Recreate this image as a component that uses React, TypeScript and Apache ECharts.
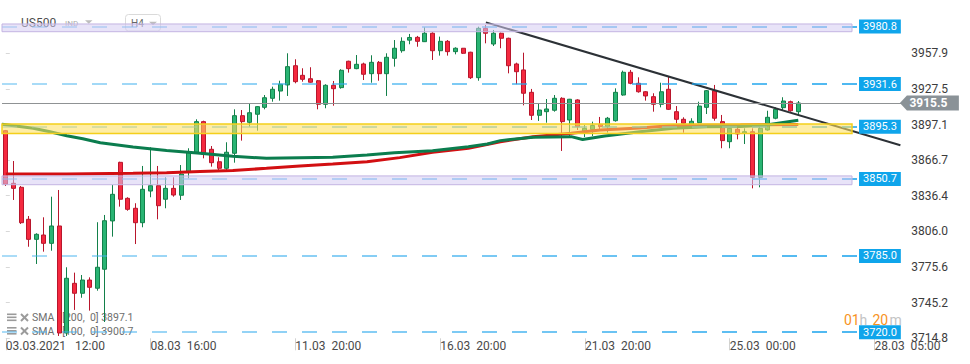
import React, { useEffect, useRef } from "react";
import * as echarts from "echarts";

// [open, close, low, high] per H4 candle
const candleOHLC: [number, number, number, number][] = [
  [3891.9, 3846.2, 3844.7, 3892.5],
  [3847.0, 3842.7, 3832.8, 3866.0],
  [3843.6, 3813.4, 3812.3, 3844.7],
  [3816.3, 3799.2, 3792.9, 3819.1],
  [3799.2, 3803.5, 3778.2, 3804.4],
  [3802.9, 3795.8, 3788.7, 3818.0],
  [3795.8, 3810.6, 3789.5, 3835.6],
  [3810.6, 3719.3, 3716.8, 3841.3],
  [3719.3, 3766.0, 3716.8, 3775.4],
  [3761.7, 3753.2, 3739.0, 3770.8],
  [3753.2, 3764.5, 3749.4, 3768.8],
  [3764.5, 3758.3, 3738.4, 3766.8],
  [3757.5, 3775.4, 3755.4, 3813.8],
  [3773.7, 3815.1, 3728.7, 3820.0],
  [3814.9, 3837.6, 3801.5, 3845.6],
  [3864.9, 3833.4, 3827.1, 3865.4],
  [3834.2, 3824.8, 3823.6, 3835.1],
  [3825.7, 3813.4, 3795.2, 3830.0],
  [3813.4, 3841.9, 3809.5, 3861.8],
  [3840.4, 3845.0, 3835.1, 3877.7],
  [3845.0, 3827.9, 3816.3, 3861.8],
  [3833.4, 3842.7, 3825.7, 3852.1],
  [3842.7, 3837.0, 3835.6, 3852.1],
  [3836.8, 3854.9, 3832.8, 3862.6],
  [3856.9, 3874.0, 3851.3, 3876.9],
  [3873.5, 3899.6, 3872.6, 3901.6],
  [3899.6, 3871.8, 3868.3, 3900.4],
  [3876.0, 3864.6, 3861.2, 3878.8],
  [3865.4, 3859.8, 3856.9, 3869.2],
  [3859.8, 3873.5, 3858.4, 3882.0],
  [3872.6, 3904.7, 3864.6, 3910.1],
  [3904.7, 3899.6, 3883.4, 3909.5],
  [3899.0, 3907.2, 3895.3, 3914.7],
  [3905.9, 3912.4, 3891.9, 3912.9],
  [3911.8, 3920.0, 3910.1, 3922.3],
  [3919.5, 3927.2, 3916.6, 3929.4],
  [3925.7, 3931.5, 3917.5, 3934.5],
  [3930.9, 3946.5, 3921.5, 3957.9],
  [3947.3, 3933.7, 3932.3, 3952.8],
  [3939.1, 3935.7, 3933.7, 3945.1],
  [3936.2, 3933.2, 3932.8, 3946.0],
  [3934.5, 3914.4, 3910.1, 3935.1],
  [3914.4, 3930.6, 3911.0, 3931.5],
  [3930.6, 3927.7, 3913.2, 3934.3],
  [3928.6, 3943.4, 3927.7, 3944.3],
  [3951.1, 3944.8, 3941.4, 3951.6],
  [3944.8, 3948.5, 3944.3, 3956.4],
  [3948.8, 3940.0, 3935.1, 3949.9],
  [3940.5, 3950.2, 3932.8, 3956.2],
  [3950.2, 3940.5, 3934.5, 3951.3],
  [3940.5, 3954.5, 3921.5, 3957.9],
  [3953.6, 3962.2, 3946.5, 3969.2],
  [3960.1, 3968.1, 3958.4, 3971.5],
  [3969.1, 3971.4, 3965.6, 3974.4],
  [3971.5, 3968.1, 3963.5, 3972.7],
  [3967.8, 3975.0, 3967.5, 3980.1],
  [3975.0, 3960.1, 3952.2, 3975.8],
  [3960.1, 3968.1, 3955.9, 3972.1],
  [3968.1, 3959.3, 3955.9, 3969.2],
  [3959.3, 3962.2, 3957.0, 3963.0],
  [3962.2, 3957.9, 3957.3, 3962.4],
  [3958.8, 3937.1, 3936.0, 3959.2],
  [3937.1, 3979.2, 3934.5, 3980.6],
  [3979.2, 3975.0, 3966.4, 3982.0],
  [3965.8, 3975.0, 3964.1, 3977.8],
  [3975.0, 3970.7, 3962.2, 3975.5],
  [3970.7, 3947.3, 3940.8, 3971.2],
  [3948.8, 3942.2, 3931.5, 3949.9],
  [3943.7, 3923.8, 3913.5, 3958.4],
  [3924.6, 3905.0, 3901.0, 3927.5],
  [3905.0, 3909.5, 3900.2, 3915.5],
  [3908.1, 3910.4, 3898.7, 3918.9],
  [3909.3, 3919.5, 3908.1, 3922.3],
  [3919.5, 3899.6, 3874.6, 3920.4],
  [3901.0, 3918.7, 3886.5, 3919.0],
  [3918.1, 3895.3, 3892.5, 3918.7],
  [3891.4, 3893.9, 3886.5, 3896.7],
  [3892.9, 3896.3, 3887.4, 3899.6],
  [3897.2, 3895.3, 3892.5, 3903.6],
  [3895.3, 3902.5, 3890.3, 3903.6],
  [3900.4, 3924.6, 3899.6, 3928.0],
  [3922.3, 3941.7, 3921.7, 3943.1],
  [3941.7, 3932.3, 3931.5, 3943.7],
  [3932.3, 3925.1, 3924.3, 3937.4],
  [3925.1, 3921.5, 3917.5, 3925.7],
  [3920.9, 3914.4, 3908.1, 3923.8],
  [3914.4, 3925.1, 3911.8, 3932.8],
  [3927.2, 3910.1, 3909.5, 3937.9],
  [3908.1, 3901.6, 3898.2, 3912.9],
  [3901.6, 3898.2, 3890.2, 3903.3],
  [3896.7, 3899.9, 3893.9, 3902.5],
  [3898.7, 3912.9, 3898.2, 3916.6],
  [3911.8, 3926.0, 3906.1, 3926.6],
  [3926.0, 3902.5, 3900.4, 3930.9],
  [3899.6, 3883.4, 3876.9, 3905.3],
  [3882.5, 3893.9, 3876.9, 3895.3],
  [3893.1, 3889.1, 3884.5, 3896.7],
  [3889.7, 3891.0, 3880.5, 3893.9],
  [3891.0, 3852.1, 3842.7, 3893.9],
  [3852.1, 3893.9, 3843.6, 3895.3],
  [3892.5, 3903.3, 3891.9, 3908.9],
  [3902.5, 3910.1, 3901.6, 3911.8],
  [3911.5, 3917.2, 3909.5, 3920.4],
  [3916.6, 3908.9, 3908.1, 3917.5],
  [3908.1, 3915.5, 3904.4, 3917.2],
];

// [candle position, value]
const sma100: [number, number][] = [
  [-0.5, 3897.4], [3.6, 3893.9], [5.8, 3891.0], [8, 3887.5], [10.1, 3885.0],
  [12.4, 3881.6], [16.7, 3878.0], [21.1, 3875.0], [25.5, 3872.6], [29.8, 3870.0],
  [34.2, 3868.3], [38.6, 3868.8], [42.9, 3869.2], [47.4, 3871.2], [51, 3873.1],
  [56, 3874.8], [60.7, 3878.2], [63.2, 3880.5], [64.9, 3883.4], [69.2, 3886.3],
  [74.2, 3886.8], [75.7, 3884.4], [78.6, 3887.4], [83.2, 3891.0], [87.6, 3893.9],
  [92, 3895.3], [96.4, 3895.5], [99.8, 3896.7], [104, 3900.7],
];
const sma200: [number, number][] = [
  [0, 3854.9], [8, 3854.9], [16.7, 3855.5], [21.1, 3856.0], [25.5, 3857.1],
  [29.8, 3857.9], [34.2, 3859.8], [38.6, 3861.8], [42.9, 3863.5], [47.4, 3865.4],
  [51.7, 3868.9], [56, 3873.5], [60.7, 3876.9], [64.9, 3882.5], [69.2, 3886.8],
  [74.2, 3889.7], [78, 3892.5], [83.2, 3894.2], [87.6, 3896.3], [96.4, 3896.7],
  [104, 3897.1],
];

const trendPoints: [number, number][] = [[63, 3984.3], [117.4, 3879.4]];

const levelLines = [3980.8, 3931.6, 3895.3, 3850.7, 3785.0, 3720.0];
const currentPrice = 3915.5;
const purpleBands: [number, number][] = [[3976.3, 3982.9], [3845.8, 3853.3]];
const yellowBands: [number, number][] = [[3889.5, 3897.6]];

const xTickIndex = [0, 19, 38, 57, 76, 95, 114];
const xTickLabels = [
  "03.03.2021   12:00",
  "08.03  16:00",
  "11.03  20:00",
  "16.03  20:00",
  "21.03  20:00",
  "25.03  00:00",
  "28.03  05:00",
];
const yTicks = [3714.8, 3745.2, 3775.6, 3806.0, 3836.4, 3866.7, 3897.1, 3927.5, 3957.9];
const smaLegend = ["SMA   [200,  0] 3897.1", "SMA   [100,  0] 3900.7"];
const timerParts: [string, boolean][] = [["01", true], ["h", false], ["20", true], ["m", false]];

const X_MIN = -0.5;
const X_MAX = 117.5;
const LINE_END = 111.84;
const BAND_END = 111.05;

export default function App() {
  const ref = useRef<HTMLDivElement>(null);

  useEffect(() => {
    document.body.style.margin = "0";
    const el = ref.current;
    if (!el) return;
    const chart = echarts.init(el, null, { renderer: "svg" });
    const FONT = "Roboto, 'Noto Sans', sans-serif";

    const candleData = candleOHLC.map((c, i) => [i, c[0], c[1], c[2], c[3]]);

    const dashGradient = new echarts.graphic.LinearGradient(
      0, 0, 860, 0,
      [
        { offset: 0, color: "rgba(70,178,238,0.6)" },
        { offset: 1, color: "rgba(18,160,236,1)" },
      ],
      true
    );

    const levelLineData: any[] = levelLines.map((v) => [
      { coord: [X_MIN, v], value: v },
      { coord: [LINE_END, v], value: v },
    ]);
    levelLineData.push({
      yAxis: currentPrice,
      lineStyle: { type: "solid", color: "#8f9294", width: 1 },
      label: { show: false },
    });

    const bandData: any[] = [
      ...purpleBands.map(([lo, hi]) => [
        {
          coord: [X_MIN, hi],
          itemStyle: { color: "rgba(214,204,243,0.55)", borderColor: "#c3b4e2", borderWidth: 1 },
        },
        { coord: [BAND_END, lo] },
      ]),
      ...yellowBands.map(([lo, hi]) => [
        {
          coord: [X_MIN, hi],
          itemStyle: { color: "rgba(253,224,100,0.58)", borderColor: "#f4cf1b", borderWidth: 1.5 },
        },
        { coord: [BAND_END, lo] },
      ]),
    ];

    const legendGraphics: any[] = [];
    smaLegend.forEach((txt, k) => {
      const cy = 317.5 + k * 13.5;
      [-4, -1, 2].forEach((dy) =>
        legendGraphics.push({
          type: "rect",
          shape: { x: 7, y: cy + dy, width: 9.5, height: 1.6 },
          style: { fill: "#9b9b9b" },
        })
      );
      legendGraphics.push({
        type: "line",
        shape: { x1: 21, y1: cy - 3.5, x2: 28, y2: cy + 3.5 },
        style: { stroke: "#9b9b9b", lineWidth: 2 },
      });
      legendGraphics.push({
        type: "line",
        shape: { x1: 28, y1: cy - 3.5, x2: 21, y2: cy + 3.5 },
        style: { stroke: "#9b9b9b", lineWidth: 2 },
      });
      legendGraphics.push({
        type: "text",
        x: 32,
        y: cy,
        style: { text: txt, fill: "#6e6e6e", fontSize: 10.5, fontFamily: FONT, verticalAlign: "middle" },
      });
    });

    // countdown "01h 20m"
    const timerX = [844, 859.5, 872.5, 889.5];
    const timerGraphics = timerParts.map(([t, orange], k) => ({
      type: "text",
      x: timerX[k],
      y: 319.5,
      z: 10,
      style: {
        text: t,
        fill: orange ? "#f7931e" : "#c4c4c4",
        fontSize: 14,
        fontFamily: FONT,
        verticalAlign: "middle",
      },
    }));

    const option: any = {
      animation: false,
      backgroundColor: "#ffffff",
      textStyle: { fontFamily: FONT },
      grid: { left: 2, right: 68.84, top: 0, bottom: 25.7, containLabel: false, outerBoundsMode: "none" },
      xAxis: {
        type: "value",
        min: X_MIN,
        max: X_MAX,
        axisLine: { show: false },
        splitLine: { show: false },
        axisTick: { show: true, customValues: xTickIndex, length: 12, lineStyle: { color: "#d2d2d2" } },
        axisLabel: {
          customValues: xTickIndex,
          align: "left",
          margin: 2,
          color: "#4a4a4a",
          fontSize: 12,
          fontFamily: FONT,
          formatter: (v: number) => {
            const k = xTickIndex.indexOf(Math.round(v));
            return k >= 0 ? xTickLabels[k] : "";
          },
        },
      },
      yAxis: {
        type: "value",
        position: "right",
        min: 3714.8,
        max: 4003.35,
        axisLine: { show: false },
        splitLine: { show: false },
        axisTick: { show: true, customValues: yTicks, length: 4, lineStyle: { color: "#d8d8d8" } },
        axisLabel: {
          customValues: yTicks,
          margin: 10,
          color: "#3c3c3c",
          fontSize: 12,
          fontFamily: FONT,
          formatter: (v: number) => v.toFixed(1),
        },
      },
      series: [
        {
          type: "candlestick",
          data: candleData,
          encode: { x: 0, y: [1, 2, 3, 4] },
          barWidth: 4.5,
          z: 2,
          silent: true,
          itemStyle: {
            color: "#29b473",
            color0: "#f5293f",
            borderColor: "#13804a",
            borderColor0: "#b8162c",
            borderWidth: 1,
          },
        },
        {
          type: "line",
          data: sma200,
          symbol: "none",
          z: 3,
          silent: true,
          lineStyle: { color: "#d20f12", width: 3 },
        },
        {
          type: "line",
          data: sma100,
          symbol: "none",
          z: 3,
          silent: true,
          lineStyle: { color: "#0b7d4e", width: 3 },
        },
        {
          type: "line",
          data: trendPoints,
          symbol: "none",
          z: 4,
          silent: true,
          lineStyle: { color: "#2c3136", width: 2 },
          markLine: {
            z: 5,
            silent: true,
            symbol: ["none", "none"],
            lineStyle: { type: [15, 15], color: dashGradient, width: 1.6 },
            label: {
              show: true,
              position: "end",
              distance: 1,
              formatter: (p: any) => Number(p.value).toFixed(1),
              backgroundColor: "#0fa5eb",
              color: "#ffffff",
              fontSize: 11,
              fontFamily: FONT,
              padding: [2, 4, 1, 4],
            },
            data: levelLineData,
          },
          markArea: {
            z: 6,
            silent: true,
            label: { show: false },
            data: bandData,
          },
          markPoint: {
            z: 7,
            silent: true,
            symbol: "path://M0,7.5L7,0L59,0L59,15L7,15Z",
            symbolSize: [59, 15],
            symbolOffset: [29, 0],
            itemStyle: { color: "#8a9297" },
            label: {
              show: true,
              position: "inside",
              formatter: currentPrice.toFixed(1),
              color: "#ffffff",
              fontSize: 12,
              fontWeight: "bold",
              fontFamily: FONT,
              offset: [-1, 0],
            },
            data: [{ coord: [117.4, currentPrice], value: currentPrice }],
          },
        },
      ],
      graphic: [
        {
          type: "text",
          x: 21,
          y: 22.8,
          style: { text: "US500", fill: "#4d4d4d", fontSize: 12, fontFamily: FONT, verticalAlign: "middle" },
        },
        {
          type: "text",
          x: 65,
          y: 23.8,
          style: { text: "IND", fill: "#a8a8a8", fontSize: 8, fontFamily: FONT, verticalAlign: "middle" },
        },
        {
          type: "polygon",
          shape: { points: [[85, 20.3], [92.5, 20.3], [88.75, 23.8]] },
          style: { fill: "#bdbdbd" },
        },
        {
          type: "rect",
          shape: { x: 125.5, y: 14.5, width: 35, height: 16.5, r: 3 },
          style: { fill: "rgba(255,255,255,0.7)", stroke: "#dadada", lineWidth: 1 },
        },
        {
          type: "text",
          x: 131,
          y: 23.6,
          style: { text: "H4", fill: "#666666", fontSize: 10, fontFamily: FONT, verticalAlign: "middle" },
        },
        {
          type: "polygon",
          shape: { points: [[149, 21.7], [157, 21.7], [153, 25.2]] },
          style: { fill: "#bdbdbd" },
        },
        ...legendGraphics,
        ...timerGraphics,
      ],
    };

    chart.setOption(option);
    return () => chart.dispose();
  }, []);

  return (
    <div
      ref={ref}
      style={{ position: "absolute", left: 0, top: 0, width: 970, height: 364 }}
    />
  );
}
